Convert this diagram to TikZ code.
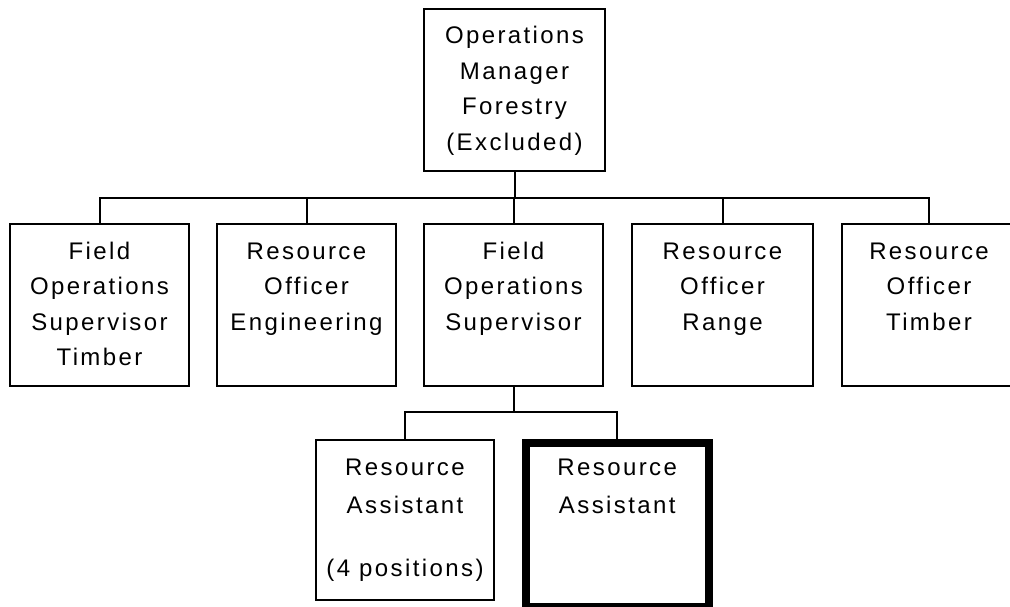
\documentclass[tikz,border=0pt]{standalone}
\usepackage{fontspec}
\setmainfont{Liberation Sans}[LetterSpace=10]
\begin{document}
\begin{tikzpicture}[x=1pt,y=-1pt,
  orgbox/.style={draw=black, line width=2pt, fill=white, inner sep=0pt, minimum height=162pt},
  thickbox/.style={draw=black, line width=8pt, fill=white, inner sep=0pt},
  boxtext/.style={anchor=base, inner sep=0pt, font=\fontsize{24}{35.5}\selectfont},
  lowtext/.style={anchor=base, inner sep=0pt, font=\fontsize{24}{38}\selectfont},
  conn/.style={draw=black, line width=2pt}]
\useasboundingbox (0,0) rectangle (1010,607);
\clip (0,0) rectangle (1010,607);
% boxes
\node[orgbox, minimum width=181pt] (top) at (514.5,90) {};
\node[orgbox, minimum width=179pt] (b1) at (99.5,305) {};
\node[orgbox, minimum width=179pt] (b2) at (306.5,305) {};
\node[orgbox, minimum width=179pt] (b3) at (513.5,305) {};
\node[orgbox, minimum width=181pt] (b4) at (722.5,305) {};
\node[orgbox, minimum width=174pt] (b5) at (929,305) {};
\node[orgbox, minimum width=178pt, minimum height=160pt] (ra) at (405,520) {};
\node[thickbox, minimum width=182.5pt, minimum height=164pt] (rb) at (617.25,525) {};
% texts
\node[boxtext] (ttop) at ([yshift=-36pt]top.north) {\parbox[t]{200pt}{\centering Operations\\Manager\\Forestry\\(Excluded)}};
\node[boxtext] (tb1) at ([yshift=-36pt]b1.north) {\parbox[t]{200pt}{\centering Field\\Operations\\Supervisor\\Timber}};
\node[boxtext] (tb2) at ([yshift=-36pt]b2.north) {\parbox[t]{200pt}{\centering Resource\\Officer\\Engineering}};
\node[boxtext] (tb3) at ([yshift=-36pt]b3.north) {\parbox[t]{200pt}{\centering Field\\Operations\\Supervisor}};
\node[boxtext] (tb4) at ([yshift=-36pt]b4.north) {\parbox[t]{200pt}{\centering Resource\\Officer\\Range}};
\node[boxtext] (tb5) at ([yshift=-36pt]b5.north) {\parbox[t]{200pt}{\centering Resource\\Officer\\Timber}};
\node[lowtext] (tra) at ([yshift=-36pt]ra.north) {\parbox[t]{200pt}{\centering Resource\\Assistant\\[25pt](4 positions)}};
\node[lowtext] (trb) at ([yshift=-36pt]rb.north) {\parbox[t]{200pt}{\centering Resource\\Assistant}};
% connectors
\path (top.south) -- ++(0,26) coordinate (j1);
\draw[conn] (top.south) -- (j1);
\draw[conn] (b1.north) |- (j1) -| (b5.north);
\foreach \b in {b2,b3,b4} \draw[conn] (\b.north) -- (\b.north |- j1);
\path (b3.south) -- ++(0,25) coordinate (j2);
\draw[conn] (b3.south) -- (j2);
\draw[conn] (ra.north) |- (j2) -| ([yshift=-4pt]rb.north);
\end{tikzpicture}
\end{document}
